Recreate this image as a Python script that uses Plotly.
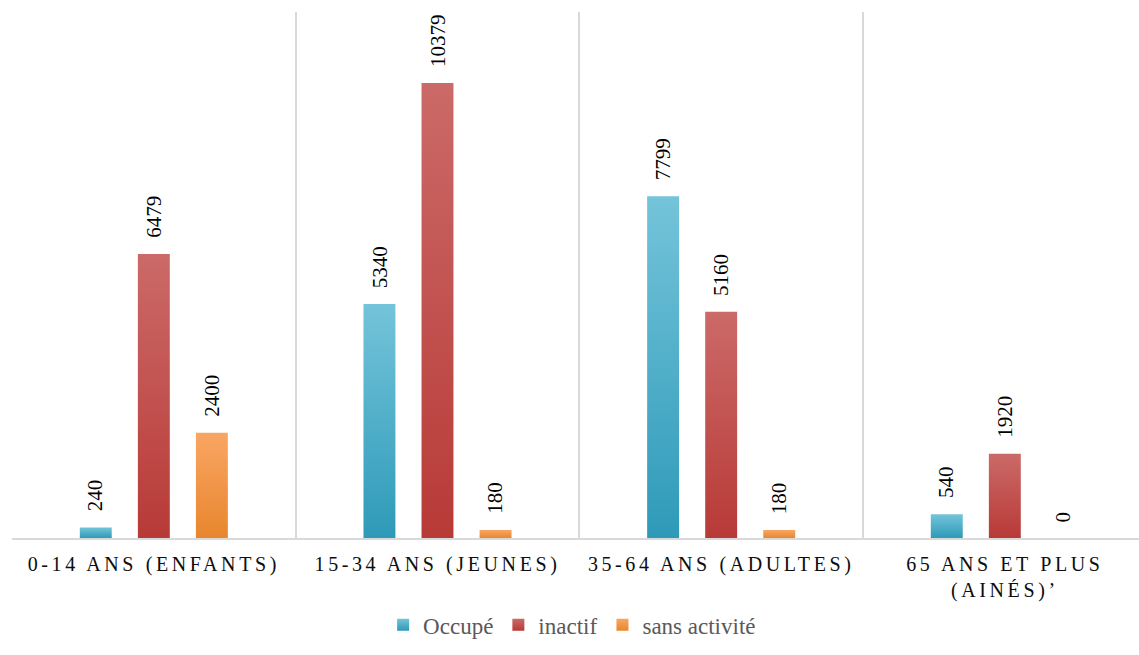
import plotly.graph_objects as go

# Population par tranche d'âge et situation d'activité
categories = ["0-14 ANS (ENFANTS)", "15-34 ANS (JEUNES)", "35-64 ANS (ADULTES)", "65 ANS ET PLUS<br>(AINÉS)’"]
series_names = ["Occupé", "inactif", "sans activité"]
occupe = [240, 5340, 7799, 540]
inactif = [6479, 10379, 5160, 1920]
sans_activite = [2400, 180, 180, 0]

series_values = [occupe, inactif, sans_activite]
colors = ["#4BACC6", "#C0504D", "#F79646"]

BARGAP = 0.386
BARGROUPGAP = 0.45
SERIF = "Liberation Serif"

fig = go.Figure()
for name, vals, col in zip(series_names, series_values, colors):
    fig.add_trace(go.Bar(
        x=categories, y=vals, name=name,
        marker=dict(color=col, line=dict(width=0)),
    ))

# value labels, rotated, above each bar
slot = (1 - BARGAP) / len(series_values)
annotations = []
for s, vals in enumerate(series_values):
    for c, v in enumerate(vals):
        annotations.append(dict(
            x=c + (s - 1) * slot, y=v, xref="x", yref="y",
            text=str(v), textangle=-90, showarrow=False,
            xanchor="center", yanchor="bottom", yshift=14,
            font=dict(family=SERIF, size=21, color="#000000"),
        ))

fig.update_layout(
    width=1139, height=655,
    margin=dict(l=12, r=0, t=12, b=117),
    paper_bgcolor="white", plot_bgcolor="white",
    font=dict(family=SERIF),
    barmode="group", bargap=BARGAP, bargroupgap=BARGROUPGAP,
    showlegend=True,
    legend=dict(
        orientation="h", x=0.497, xanchor="center", y=-0.165, yanchor="middle",
        font=dict(family=SERIF, size=23, color="#595959"),
        itemwidth=30, tracegroupgap=0,
    ),
    annotations=annotations,
    xaxis=dict(
        range=[-0.5, 3.473], tickson="boundaries", showgrid=True,
        gridcolor="#D9D9D9", gridwidth=1.5,
        showline=True, linecolor="#D9D9D9", linewidth=1.5,
        ticks="", ticklabelstandoff=7,
        tickfont=dict(family=SERIF, size=20, color="#0d0d0d"),
        tickangle=0, fixedrange=True,
    ),
    yaxis=dict(
        range=[0, 12000], visible=False, showgrid=False, zeroline=False,
        fixedrange=True,
    ),
)

post = """
var gd = document.querySelector('.plotly-graph-div');
function styleChart(){
  var svg = gd.querySelector('svg.main-svg');
  if(!svg) return;
  var ns = 'http://www.w3.org/2000/svg';
  var defs = svg.querySelector('defs') || svg.insertBefore(document.createElementNS(ns,'defs'), svg.firstChild);
  var specs = [['grdOcc','#74C4DA','#2E9AB8'],['grdIna','#CB6A68','#B83A37'],['grdSans','#F9A663','#E8862E']];
  specs.forEach(function(s){
    if(document.getElementById(s[0])) return;
    var g = document.createElementNS(ns,'linearGradient');
    g.setAttribute('id', s[0]); g.setAttribute('x1','0'); g.setAttribute('y1','0');
    g.setAttribute('x2','0'); g.setAttribute('y2','1');
    [[0,s[1]],[1,s[2]]].forEach(function(st){
      var e = document.createElementNS(ns,'stop');
      e.setAttribute('offset', st[0]); e.setAttribute('stop-color', st[1]);
      g.appendChild(e);
    });
    defs.appendChild(g);
  });
  gd.querySelectorAll('.barlayer .trace.bars').forEach(function(tr,i){
    tr.querySelectorAll('path').forEach(function(p){ p.style.fill = 'url(#'+specs[i][0]+')'; });
  });
  gd.querySelectorAll('.legend .traces').forEach(function(tr,i){
    tr.querySelectorAll('.legendpoints path').forEach(function(p){ p.style.fill = 'url(#'+specs[i][0]+')'; });
  });
  gd.querySelectorAll('.xtick text').forEach(function(t){ t.style.letterSpacing = '3.6px'; });
}
styleChart();
gd.on('plotly_afterplot', styleChart);
"""

fig.write_html("out.html", post_script=post)
